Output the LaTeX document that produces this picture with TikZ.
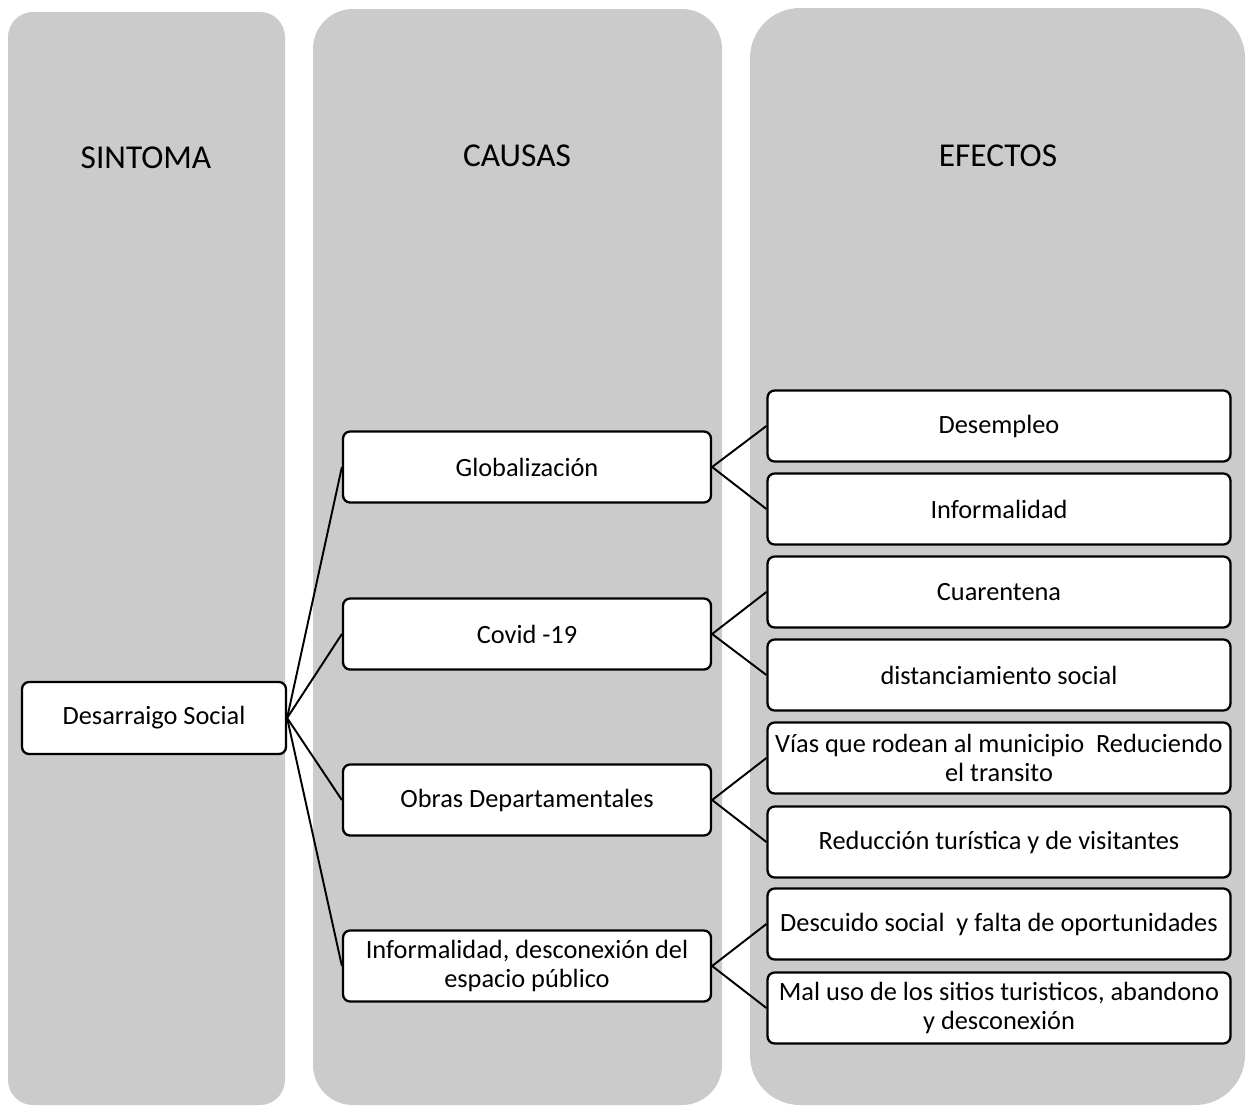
\documentclass[tikz,border=0pt]{standalone}
\usepackage{fontspec}
\setmainfont{Carlito}
\definecolor{colgray}{RGB}{203,203,203}
\tikzset{
  column/.style={fill=colgray, draw=none},
  header/.style={font=\fontsize{19}{23}\selectfont},
  box/.style={draw, line width=1.3pt, fill=white, rounded corners=4pt, align=center,
    inner sep=0pt, font=\fontsize{15}{17}\selectfont},
  symbox/.style={box, minimum width=5.28cm, minimum height=1.44cm},
  causebox/.style={box, minimum width=7.36cm, minimum height=1.42cm},
  effectbox/.style={box, minimum width=9.26cm, minimum height=1.42cm},
  link/.style={line width=1.1pt}
}
\begin{document}
\begin{tikzpicture}[x=0.02cm,y=-0.02cm]
\useasboundingbox (0,0) rectangle (1252,1106);
%\draw[very thin,color=gray] (0,0) grid[step=100] (1252,1106);
\fill[column, rounded corners=0.5cm] (8,12) rectangle (285,1105);
\fill[column, rounded corners=0.8cm] (313,9) rectangle (722,1105);
\fill[column, rounded corners=1cm] (750,8) rectangle (1245,1105);
\node[header] (hsin) at (146,158) {SINTOMA};
\node[header] (hcau) at (517,156) {CAUSAS};
\node[header] (hefe) at (998,156) {EFECTOS};
\node[symbox] (sym) at (154,718) {Desarraigo Social};
\node[causebox] (glob) at (527,467) {Globalización};
\node[causebox] (covid) at (527,634) {Covid -19};
\node[causebox] (obras) at (527,800) {Obras Departamentales};
\node[causebox] (infor) at (527,966) {Informalidad, desconexión del\\espacio público};
\node[effectbox] (desem) at (999,426) {Desempleo};
\node[effectbox] (inform) at (999,509) {Informalidad};
\node[effectbox] (cuar) at (999,592) {Cuarentena};
\node[effectbox] (dist) at (999,675) {distanciamiento social};
\node[effectbox] (vias) at (999,758) {Vías que rodean al municipio~ Reduciendo\\el transito};
\node[effectbox] (redu) at (999,842) {Reducción turística y de visitantes};
\node[effectbox] (desc) at (999,924) {Descuido social~ y falta de oportunidades};
\node[effectbox] (mal) at (999,1008) {Mal uso de los sitios turisticos, abandono\\y desconexión};
\foreach \c in {glob,covid,obras,infor}
  \draw[link] (sym.east) -- (\c.west);
\foreach \c/\a/\b in {glob/desem/inform,covid/cuar/dist,obras/vias/redu,infor/desc/mal}{
  \draw[link] (\c.east) -- (\a.west);
  \draw[link] (\c.east) -- (\b.west);
}
\end{tikzpicture}
\end{document}
